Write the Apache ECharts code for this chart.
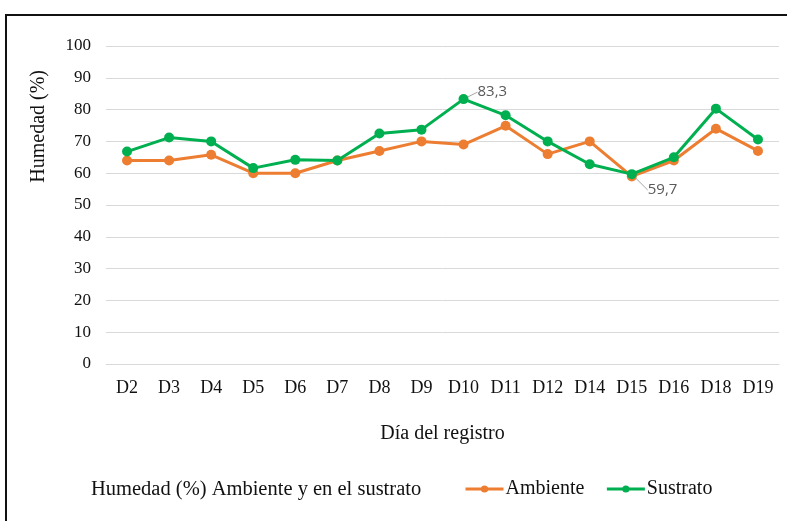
<!DOCTYPE html>
<html>
<head>
<meta charset="utf-8">
<script src="https://cdn.jsdelivr.net/npm/echarts@6/dist/echarts.min.js"></script>
<style>
  html,body{margin:0;padding:0;background:#fff;}
  #wrap{position:relative;width:787px;height:521px;overflow:hidden;}
  #frame{position:absolute;left:5px;top:14px;width:800px;height:520px;border-left:2px solid #111;border-top:2px solid #111;}
  #chart{position:absolute;left:0;top:0;width:787px;height:521px;}
</style>
</head>
<body>
<div id="wrap">
  <div id="frame"></div>
  <div id="chart"></div>
</div>
<script>
// dias de registro
const dias = ["D2","D3","D4","D5","D6","D7","D8","D9","D10","D11","D12","D14","D15","D16","D18","D19"]
// humedad ambiente (%)
const ambiente = [64,64,65.8,60,60,64,67,70,69,74.9,66,70,59,64,74,67]
// humedad del sustrato (%)
const sustrato = [66.8,71.2,70,61.6,64.2,64,72.5,73.7,83.3,78.2,70,62.8,59.7,65,80.3,70.6]
// valores con etiqueta
const etiquetas = [8,12]

let myChart = echarts.init(document.getElementById("chart"))

const serif = "Liberation Serif"

function datosSustrato(){
    return sustrato.map((v,i)=>{
        if(etiquetas.indexOf(i) >= 0){
            return {value:v,label:{show:true},labelLine:{show:true}}
        }
        return v
    })
}

myChart.setOption({
    animation:false,
    textStyle:{fontFamily:serif},
    grid:{
        left:106,
        right:8,
        top:46,
        bottom:157
    },
    title:{
        text:"Humedad (%) Ambiente y en el sustrato",
        left:91,
        top:479,
        padding:[0,0,0,0],
        textStyle:{fontFamily:serif,fontSize:20.5,fontWeight:"normal",color:"#111"}
    },
    legend:{
        left:464,
        top:479,
        padding:0,
        itemWidth:38,
        itemHeight:9,
        itemGap:21,
        lineStyle:{width:3},
        textStyle:{fontFamily:serif,fontSize:20,color:"#111",padding:[0,0,0,-3]},
        data:["Ambiente","Sustrato"]
    },
    graphic:[
        {
            type:"text",
            left:29,
            top:70,
            rotation:Math.PI/2,
            style:{text:"Humedad (%)",font:"20px 'Liberation Serif'",fill:"#111"}
        }
    ],
    xAxis:{
        type:"category",
        data:dias,
        boundaryGap:true,
        name:"Día del registro",
        nameLocation:"middle",
        nameGap:60,
        nameTextStyle:{fontFamily:serif,fontSize:20,color:"#111"},
        axisLine:{lineStyle:{color:"#d9d9d9",width:1}},
        axisTick:{show:false},
        axisLabel:{fontFamily:serif,fontSize:18,color:"#111",margin:15,interval:0}
    },
    yAxis:{
        type:"value",
        min:0,
        max:100,
        interval:10,
        axisLine:{show:false},
        axisTick:{show:false},
        axisLabel:{fontFamily:serif,fontSize:17,color:"#111",margin:15},
        splitLine:{lineStyle:{color:"#d9d9d9",width:1}}
    },
    series:[
        {
            type:"line",
            name:"Ambiente",
            data:ambiente,
            symbol:"circle",
            symbolSize:10,
            color:"#ED7D31",
            lineStyle:{width:3},
            z:2
        },
        {
            type:"line",
            name:"Sustrato",
            data:datosSustrato(),
            symbol:"circle",
            symbolSize:10,
            color:"#00B050",
            lineStyle:{width:3},
            z:3,
            label:{
                show:false,
                position:"right",
                fontFamily:"Open Sans",
                fontSize:15,
                color:"#595959",
                formatter:(p)=>String(p.value).replace(".",",")
            },
            labelLine:{lineStyle:{color:"#a6a6a6",width:1}},
            labelLayout:function(params){
                if(params.dataIndex === 8){
                    return {dx:4,dy:-7}
                }
                if(params.dataIndex === 12){
                    return {dx:6,dy:16}
                }
                return {}
            }
        }
    ]
})
</script>
</body>
</html>
